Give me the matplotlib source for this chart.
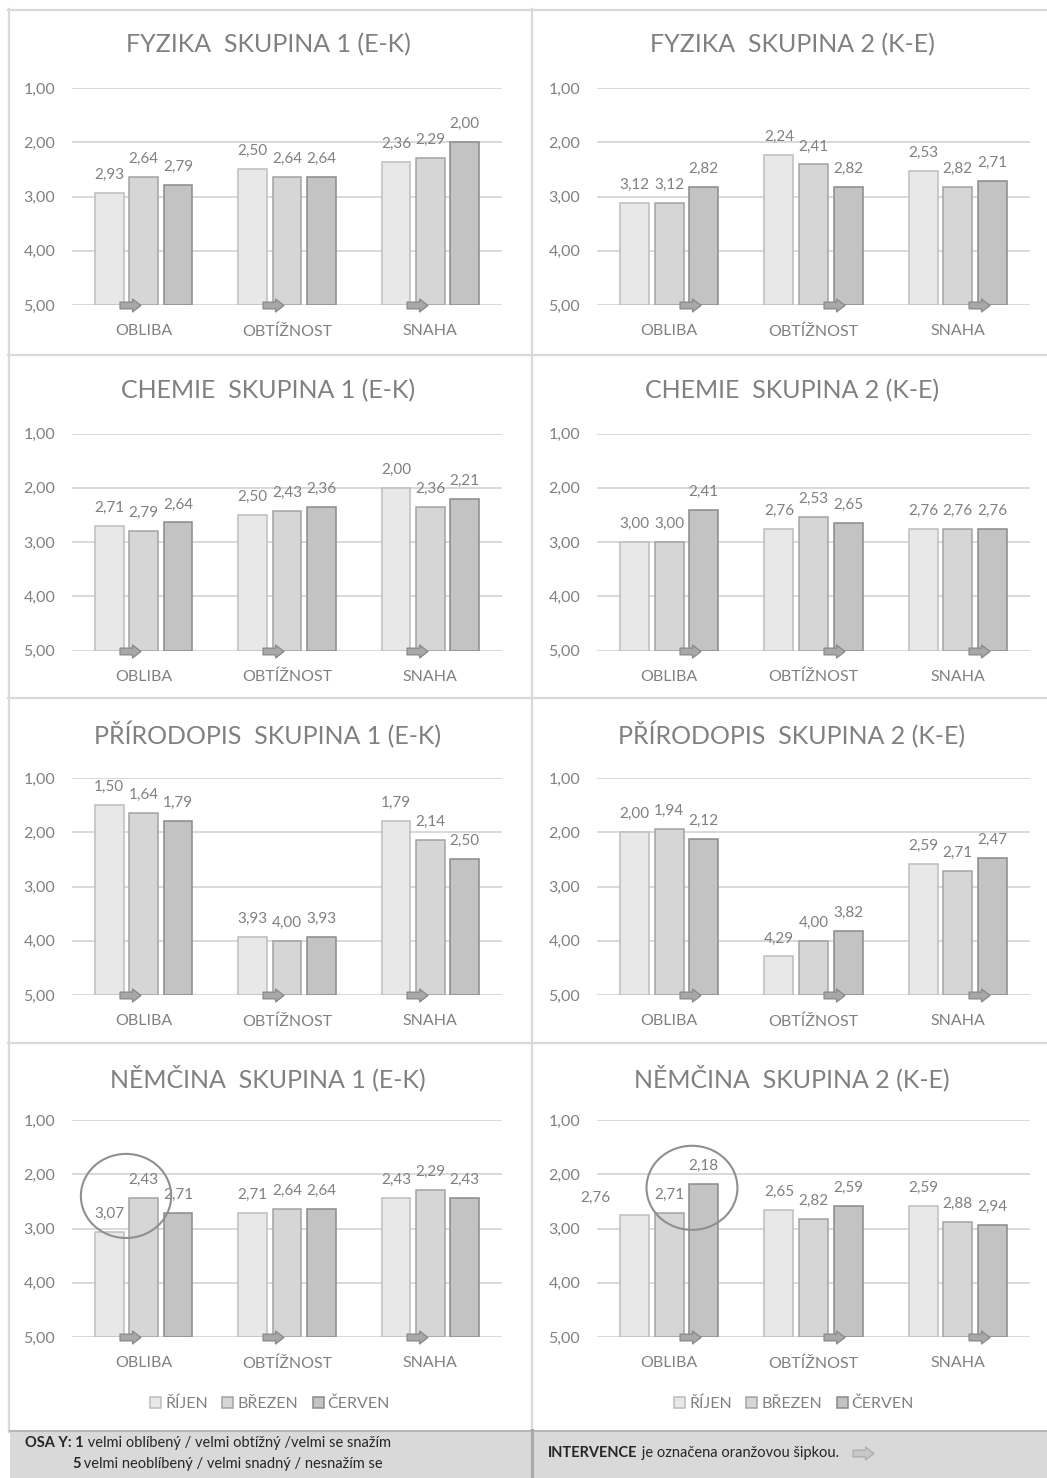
import matplotlib
matplotlib.use("Agg")
import matplotlib.pyplot as plt
from matplotlib.path import Path
from matplotlib.patches import Rectangle, Ellipse
from matplotlib.lines import Line2D

plt.rcParams['font.family'] = ['Lato', 'DejaVu Sans']

# ---------------------------------------------------------------- data
categories = ["OBLIBA", "OBTÍŽNOST", "SNAHA"]
months = ["ŘÍJEN", "BŘEZEN", "ČERVEN"]
y_ticks = [1, 2, 3, 4, 5]

titles = [
    "FYZIKA  SKUPINA 1 (E-K)", "FYZIKA  SKUPINA 2 (K-E)",
    "CHEMIE  SKUPINA 1 (E-K)", "CHEMIE  SKUPINA 2 (K-E)",
    "PŘÍRODOPIS  SKUPINA 1 (E-K)", "PŘÍRODOPIS  SKUPINA 2 (K-E)",
    "NĚMČINA  SKUPINA 1 (E-K)", "NĚMČINA  SKUPINA 2 (K-E)",
]

# one row per month (ŘÍJEN, BŘEZEN, ČERVEN), one column per category
fyzika_1 = [[2.93, 2.50, 2.36], [2.64, 2.64, 2.29], [2.79, 2.64, 2.00]]
fyzika_2 = [[3.12, 2.24, 2.53], [3.12, 2.41, 2.82], [2.82, 2.82, 2.71]]
chemie_1 = [[2.71, 2.50, 2.00], [2.79, 2.43, 2.36], [2.64, 2.36, 2.21]]
chemie_2 = [[3.00, 2.76, 2.76], [3.00, 2.53, 2.76], [2.41, 2.65, 2.76]]
prirodopis_1 = [[1.50, 3.93, 1.79], [1.64, 4.00, 2.14], [1.79, 3.93, 2.50]]
prirodopis_2 = [[2.00, 4.29, 2.59], [1.94, 4.00, 2.71], [2.12, 3.82, 2.47]]
nemcina_1 = [[3.07, 2.71, 2.43], [2.43, 2.64, 2.29], [2.71, 2.64, 2.43]]
nemcina_2 = [[2.76, 2.65, 2.59], [2.71, 2.82, 2.88], [2.18, 2.59, 2.94]]

panels = [fyzika_1, fyzika_2, chemie_1, chemie_2,
          prirodopis_1, prirodopis_2, nemcina_1, nemcina_2]

# ---------------------------------------------------------------- style
W, H = 1047, 1478
bar_colors = ["#e8e8e8", "#d6d6d6", "#c3c3c3"]
edge_colors = ["#bdbdbd", "#a3a3a3", "#8a8a8a"]
text_gray = "#808080"
grid_gray = "#d9d9d9"
bar_offsets = [-0.24, 0.0, 0.24]
bar_width = 0.2

fig = plt.figure(figsize=(W / 100, H / 100), dpi=100)


def fx(px):
    return px / W


def fy(py):
    return 1 - py / H


# arrow marker (intervention)
arrow_path = Path(
    [(-1.0, -0.32), (0.2, -0.32), (0.2, -0.62), (1.0, 0.0),
     (0.2, 0.62), (0.2, 0.32), (-1.0, 0.32), (-1.0, -0.32)],
    [Path.MOVETO] + [Path.LINETO] * 6 + [Path.CLOSEPOLY])

row_tops = [88, 433.5, 778, 1120]
row_titles = [45, 391, 735, 1078]
col_axes = [(72, 430), (597, 433)]
col_centers = [268, 792]
axis_height = 217
# intervention arrow between the measurements, per column
arrow_offsets = [-0.095, 0.145]

# label nudges {(panel, month, category): dx in category units}
label_nudge = {(7, 0, 0): -0.27}

for i, (vals, title) in enumerate(zip(panels, titles)):
    row, col = divmod(i, 2)
    left, width = col_axes[col]
    top = row_tops[row]
    ax = fig.add_axes([fx(left), fy(top + axis_height),
                       fx(width), axis_height / H])
    for m in range(3):
        xs = [c + bar_offsets[m] for c in range(3)]
        heights = [v - 5 for v in vals[m]]
        ax.bar(xs, heights, bottom=5, width=bar_width,
               color=bar_colors[m], edgecolor=edge_colors[m],
               linewidth=1.1, zorder=3, label=months[m])
        for c, v in enumerate(vals[m]):
            dx = label_nudge.get((i, m, c), 0.0)
            ax.annotate(f"{v:.2f}".replace(".", ","), (xs[c] + dx, v),
                        xytext=(0, 13), textcoords="offset points",
                        ha="center", va="center", fontsize=11,
                        color=text_gray, zorder=4, annotation_clip=False)
    # intervention arrows on the baseline
    ax.plot([c + arrow_offsets[col] for c in range(3)], [5] * 3,
            linestyle="none", marker=arrow_path, markersize=15,
            markerfacecolor="#a8a8a8", markeredgecolor="#8c8c8c",
            markeredgewidth=1.0, clip_on=False, zorder=5)

    ax.set_xlim(-0.5, 2.5)
    ax.set_ylim(5, 1)
    ax.set_yticks(y_ticks)
    ax.set_yticklabels([f"{t:.2f}".replace(".", ",") for t in y_ticks])
    ax.set_xticks(range(3))
    ax.set_xticklabels(categories)
    ax.tick_params(axis="both", length=0, labelsize=11.5,
                   labelcolor=text_gray)
    ax.tick_params(axis="y", pad=12)
    ax.tick_params(axis="x", pad=14)
    ax.grid(axis="y", color=grid_gray, linewidth=1.4, zorder=0)
    for s in ax.spines.values():
        s.set_visible(False)

    fig.text(fx(col_centers[col]), fy(row_titles[row]), title,
             ha="center", va="center", fontsize=18, color=text_gray)

    if row == 3:
        handles, labels = ax.get_legend_handles_labels()
        fig.legend(handles, labels, loc="center",
                   bbox_to_anchor=(fx(col_centers[col] + 2), fy(1404)),
                   ncol=3, frameon=False, fontsize=11.5,
                   labelcolor=text_gray, handlelength=0.7,
                   handleheight=0.7, handletextpad=0.25,
                   columnspacing=0.9)
        # highlighted OBLIBA change
        if col == 0:
            centre = (-0.123, 2.40)
        else:
            centre = (0.158, 2.25)
        ax.add_patch(Ellipse(centre, 0.63, 1.55, fill=False,
                             edgecolor="#8f8f8f", linewidth=1.5,
                             zorder=6, clip_on=False))

# ---------------------------------------------------------------- frames
frame_kw = dict(color=grid_gray, linewidth=1.6, transform=fig.transFigure)
fig.add_artist(Line2D([fx(8), fx(1047)], [fy(9.5), fy(9.5)], **frame_kw))
fig.add_artist(Line2D([fx(8.5), fx(8.5)], [fy(9), fy(1432)], **frame_kw))
fig.add_artist(Line2D([fx(532), fx(532)], [fy(9), fy(1430)], **frame_kw))
for yy in [355, 698, 1043]:
    fig.add_artist(Line2D([fx(8), fx(1047)], [fy(yy), fy(yy)], **frame_kw))

# footer
fig.add_artist(Rectangle((fx(10), 0), fx(1037), fy(1430), facecolor="#d9d9d9",
                         edgecolor="none", transform=fig.transFigure))
fig.add_artist(Line2D([fx(10), fx(1047)], [fy(1430.5), fy(1430.5)],
                      color="#b5b5b5", linewidth=1.5, transform=fig.transFigure))
fig.add_artist(Line2D([fx(532), fx(532)], [fy(1430), 0],
                      color="#a8a8a8", linewidth=2.2, transform=fig.transFigure))

renderer = fig.canvas.get_renderer()
foot_color = "#262626"
foot_size = 10.5


def rich_line(x_px, y_px, parts):
    """Draw consecutive bold/regular fragments on one line."""
    x = fx(x_px)
    for txt, weight in parts:
        t = fig.text(x, fy(y_px), txt, ha="left", va="center",
                     fontsize=foot_size, fontweight=weight, color=foot_color)
        bb = t.get_window_extent(renderer)
        x = bb.x1 / W
    return x


rich_line(25, 1443, [("OSA Y: 1", "bold"),
                     (" velmi oblíbený / velmi obtížný /velmi se snažím", "normal")])
rich_line(72, 1464, [("5", "bold"),
                     (" velmi neoblíbený / velmi snadný / nesnažím se", "normal")])
end_x = rich_line(548, 1453, [("INTERVENCE", "bold"),
                              (" je označena oranžovou šipkou.", "normal")])
fig.add_artist(Line2D([end_x + fx(24)], [fy(1453)], linestyle="none",
                      marker=arrow_path, markersize=15,
                      markerfacecolor="#c8c8c8", markeredgecolor="#b0b0b0",
                      transform=fig.transFigure))

fig.savefig("out.png", dpi=100)
